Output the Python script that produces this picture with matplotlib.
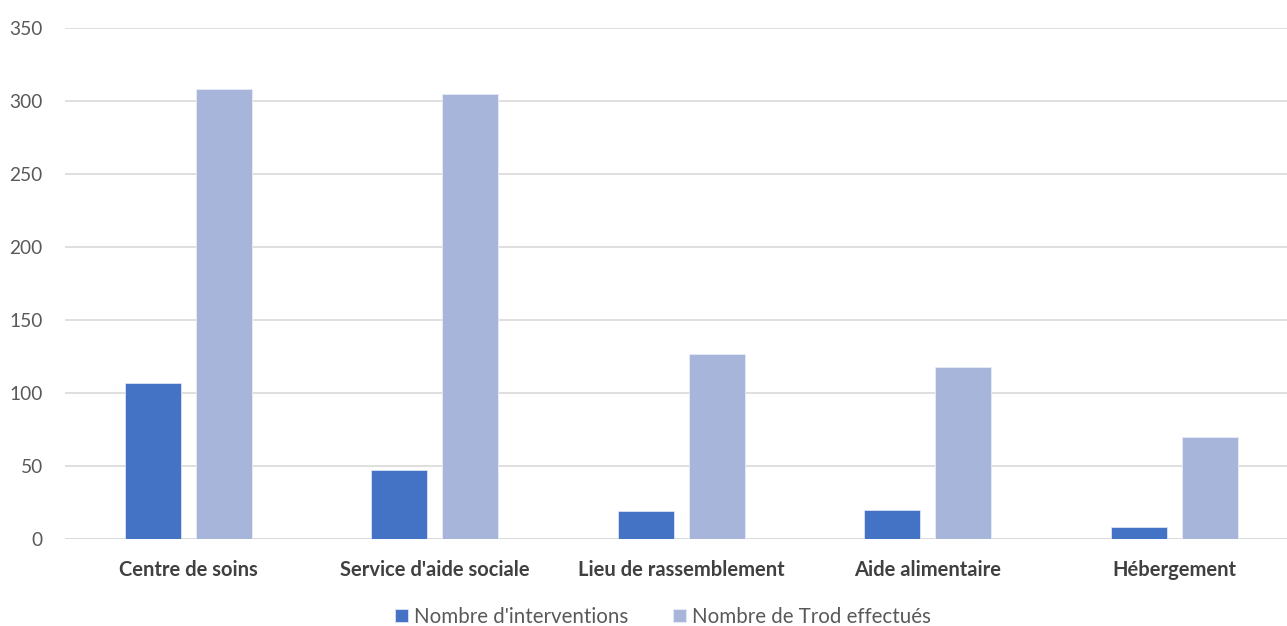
import numpy as np
import matplotlib.pyplot as plt

categories = ["Centre de soins", "Service d'aide sociale", "Lieu de rassemblement",
              "Aide alimentaire", "Hébergement"]
interventions = [107, 47, 19, 20, 8]
trod = [308, 305, 127, 118, 70]
series_names = ["Nombre d'interventions", "Nombre de Trod effectués"]
yticks = [0, 50, 100, 150, 200, 250, 300, 350]

plt.rcParams['font.family'] = ['Lato', 'DejaVu Sans']

fig = plt.figure(figsize=(12.87, 6.26), dpi=100)
# plot area runs slightly past the right edge of the image, like the original
ax = fig.add_axes([65 / 1287, 1 - 539 / 626, 1232.5 / 1287, 511 / 626])

x = np.arange(len(categories))
w = 0.227
ax.bar(x - 0.144, interventions, w, color='#4472C4', edgecolor='#dce4f5', linewidth=0.6,
       label=series_names[0], zorder=3)
ax.bar(x + 0.144, trod, w, color='#A7B5DA', edgecolor='#e6ebf6', linewidth=0.6,
       label=series_names[1], zorder=3)

ax.set_xlim(-0.5, len(categories) - 0.5)
ax.set_ylim(0, 350)
ax.set_yticks(yticks)
ax.set_xticks(x)
ax.set_xticklabels(categories, fontsize=14.5, fontweight='bold', color='#404040')
ax.tick_params(axis='y', labelsize=13.8, labelcolor='#595959', length=0, pad=16)
ax.tick_params(axis='x', length=0, pad=15)
ax.yaxis.grid(True, color='#d9d9d9', linewidth=1.2, zorder=0)
for s in ax.spines.values():
    s.set_visible(False)
ax.axhline(0, color='#d9d9d9', linewidth=1.2, zorder=1)

fig.legend(loc='center', bbox_to_anchor=(663 / 1287, 1 - 617 / 626), ncol=2, frameon=False,
           fontsize=14.8, labelcolor='#595959', handlelength=0.6, handleheight=0.6,
           handletextpad=0.3, columnspacing=2.2)

fig.savefig('out.png', dpi=100)
